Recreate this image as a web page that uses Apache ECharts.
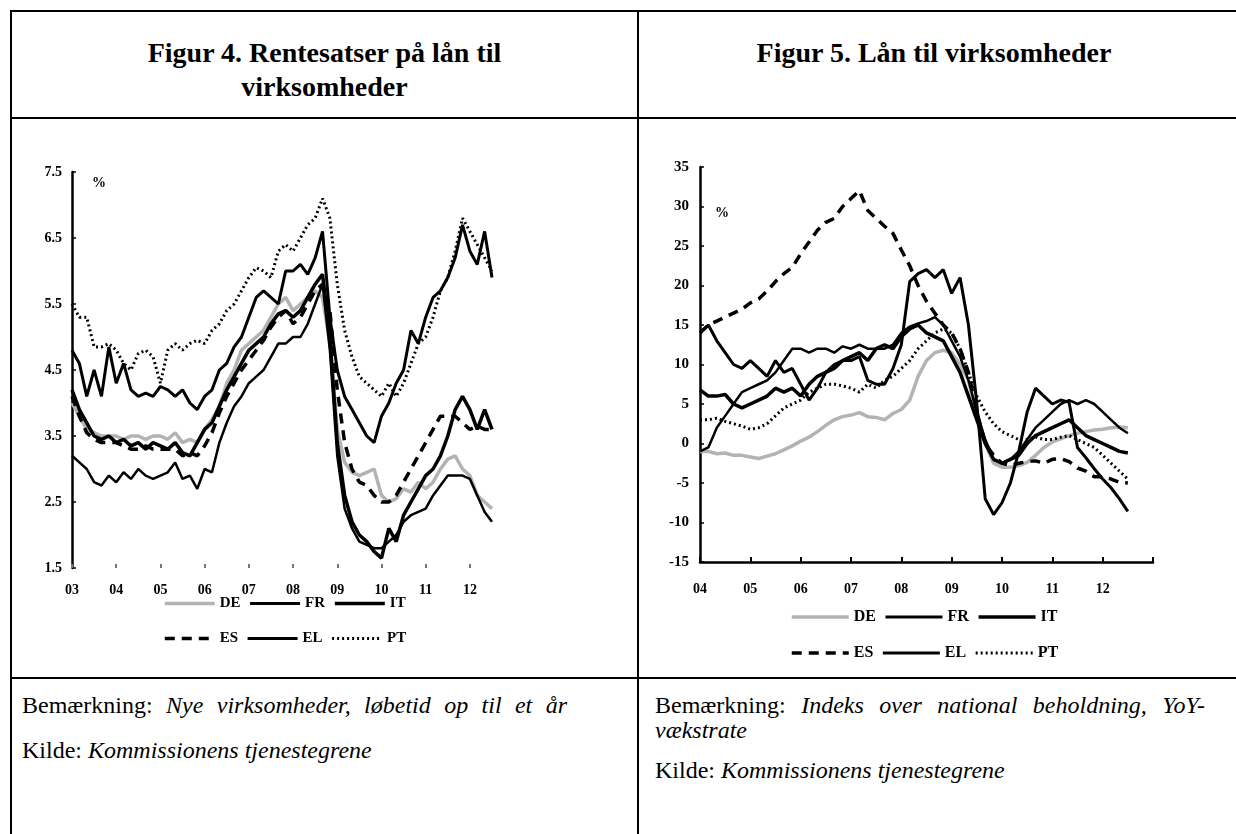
<!DOCTYPE html>
<html>
<head>
<meta charset="utf-8">
<script src="https://cdn.jsdelivr.net/npm/echarts@6.0.0/dist/echarts.min.js"></script>
<style>
  html, body { margin: 0; padding: 0; background: #fff; }
  body { width: 1236px; height: 834px; position: relative; overflow: hidden;
         font-family: "Liberation Serif", "Times New Roman", serif; color: #000; }
  .rule { position: absolute; background: #000; }
  .title { position: absolute; top: 36px; text-align: center; font-weight: bold;
           font-size: 28px; line-height: 34px; }
  .note { position: absolute; font-size: 24px; line-height: 26px; white-space: nowrap; }
  .just { text-align: justify; text-align-last: justify; white-space: normal; }
  #chart { position: absolute; left: 0; top: 0; width: 1236px; height: 834px; }
</style>
</head>
<body>
<!-- table rules -->
<div class="rule" style="left:10px;top:10px;width:1240px;height:2px"></div>
<div class="rule" style="left:10px;top:117px;width:1240px;height:2px"></div>
<div class="rule" style="left:10px;top:677px;width:1240px;height:2px"></div>
<div class="rule" style="left:10px;top:10px;width:2px;height:840px"></div>
<div class="rule" style="left:637px;top:10px;width:2px;height:840px"></div>

<div class="title" style="left:12px;width:625px">Figur 4. Rentesatser på lån til<br>virksomheder</div>
<div class="title" style="left:639px;width:590px">Figur 5. Lån til virksomheder</div>

<div class="note just" style="left:22px;top:692px;width:545px">Bemærkning: <i>Nye virksomheder, løbetid op til et år</i></div>
<div class="note" style="left:22px;top:737px">Kilde: <i>Kommissionens tjenestegrene</i></div>
<div class="note just" style="left:655px;top:692px;width:550px">Bemærkning: <i>Indeks over national beholdning, YoY-</i></div>
<div class="note" style="left:655px;top:717px"><i>vækstrate</i></div>
<div class="note" style="left:655px;top:757px">Kilde: <i>Kommissionens tjenestegrene</i></div>

<div id="chart"></div>

<script>
// every second month, Jan/Mar/May/Jul/Sep/Nov
function bimonthly(fromYear, toYear, toMonth) {
  var out = [];
  for (var y = fromYear; y <= toYear; y++) {
    for (var m = 1; m <= 11; m += 2) {
      if (y === toYear && m > toMonth) break;
      out.push(y + '-' + (m < 10 ? '0' + m : m));
    }
  }
  return out;
}

// Figur 4: rates, % (2003-01 .. 2012-07)
var monthsRate = bimonthly(2003, 2012, 7);
var rateDE = [4.0, 3.8, 3.6, 3.55, 3.5, 3.5, 3.5, 3.45, 3.5, 3.5, 3.45, 3.5,
  3.5, 3.45, 3.55, 3.4, 3.45, 3.4, 3.6, 3.75, 3.95, 4.3, 4.5, 4.8,
  4.9, 5.0, 5.1, 5.3, 5.5, 5.6, 5.4, 5.5, 5.6, 5.7, 5.6, 4.9,
  3.6, 3.1, 2.95, 2.9, 2.95, 3.0, 2.6, 2.5, 2.55, 2.7, 2.65, 2.8,
  2.7, 2.8, 3.0, 3.15, 3.2, 3.0, 2.9, 2.6, 2.5, 2.4];
var rateFR = [3.2, 3.1, 3.0, 2.8, 2.75, 2.9, 2.8, 2.95, 2.85, 3.0, 2.9, 2.85,
  2.9, 2.95, 3.1, 2.85, 2.9, 2.7, 3.0, 2.95, 3.4, 3.7, 3.95, 4.1,
  4.3, 4.4, 4.5, 4.7, 4.9, 4.9, 5.0, 5.0, 5.2, 5.5, 5.8, 4.8,
  3.2, 2.4, 2.1, 1.9, 1.85, 1.8, 1.8, 1.9, 2.0, 2.2, 2.3, 2.35,
  2.4, 2.6, 2.75, 2.9, 2.9, 2.9, 2.85, 2.6, 2.35, 2.2];
var rateIT = [4.2, 3.9, 3.7, 3.5, 3.45, 3.5, 3.4, 3.45, 3.35, 3.4, 3.3, 3.4,
  3.35, 3.3, 3.4, 3.25, 3.2, 3.4, 3.6, 3.7, 3.95, 4.2, 4.4, 4.6,
  4.8, 4.9, 5.0, 5.2, 5.35, 5.4, 5.3, 5.4, 5.6, 5.8, 5.95, 5.0,
  3.4, 2.6, 2.2, 2.0, 1.9, 1.75, 1.65, 2.1, 1.9, 2.3, 2.5, 2.7,
  2.9, 3.0, 3.2, 3.5, 3.9, 4.1, 3.9, 3.6, 3.9, 3.6];
var rateES = [4.1, 3.8, 3.55, 3.45, 3.4, 3.4, 3.4, 3.35, 3.3, 3.3, 3.35, 3.3,
  3.3, 3.3, 3.3, 3.2, 3.25, 3.2, 3.35, 3.55, 3.85, 4.1, 4.3, 4.5,
  4.65, 4.8, 4.95, 5.15, 5.3, 5.4, 5.2, 5.3, 5.5, 5.7, 5.8, 5.4,
  4.2, 3.4, 3.0, 2.8, 2.75, 2.6, 2.5, 2.5, 2.6, 2.8, 3.0, 3.2,
  3.4, 3.6, 3.8, 3.8, 3.8, 3.7, 3.6, 3.65, 3.6, 3.6];
var rateEL = [4.8, 4.6, 4.1, 4.5, 4.1, 4.85, 4.3, 4.6, 4.2, 4.1, 4.15, 4.1,
  4.25, 4.2, 4.1, 4.2, 4.0, 3.9, 4.1, 4.2, 4.5, 4.6, 4.85, 5.0,
  5.3, 5.6, 5.7, 5.6, 5.5, 6.0, 6.0, 6.1, 5.95, 6.2, 6.6, 5.3,
  4.5, 4.1, 3.9, 3.7, 3.5, 3.4, 3.8, 4.0, 4.3, 4.5, 5.1, 4.9,
  5.3, 5.6, 5.7, 5.9, 6.2, 6.7, 6.3, 6.1, 6.6, 5.9];
var ratePT = [5.5, 5.3, 5.3, 4.85, 4.85, 4.9, 4.8, 4.6, 4.5, 4.75, 4.8, 4.7,
  4.3, 4.8, 4.9, 4.8, 4.9, 4.95, 4.9, 5.1, 5.2, 5.4, 5.5, 5.7,
  5.9, 6.05, 6.0, 5.9, 6.3, 6.4, 6.3, 6.5, 6.7, 6.8, 7.1, 6.8,
  5.8, 5.1, 4.7, 4.4, 4.3, 4.2, 4.1, 4.3, 4.1, 4.3, 4.6, 4.9,
  5.0, 5.3, 5.7, 5.9, 6.3, 6.8, 6.6, 6.4, 6.2, 6.0];

// Figur 5: loans, YoY % (2004-01 .. 2012-07, axis to 2013-01)
var monthsLoan = bimonthly(2004, 2013, 1);
var loanDE = [-1.0, -1.0, -1.3, -1.2, -1.5, -1.5, -1.7, -1.9, -1.6, -1.3, -0.8, -0.3,
  0.3, 0.8, 1.5, 2.3, 3.0, 3.4, 3.6, 3.9, 3.4, 3.3, 3.0, 3.8,
  4.3, 5.5, 8.5, 10.5, 11.5, 11.8, 11.5, 10.0, 8.0, 3.5, 0.0, -2.5,
  -3.0, -3.0, -2.8, -2.4, -1.5, -0.5, 0.2, 0.6, 1.0, 1.3, 1.5, 1.7,
  1.8, 2.0, 2.1, 2.0];
var loanFR = [-1.0, -0.5, 2.0, 3.5, 5.0, 6.5, 7.0, 7.5, 8.0, 9.0, 10.5, 12.0,
  12.0, 11.5, 12.0, 12.0, 11.5, 12.3, 12.0, 12.5, 12.0, 12.0, 12.0, 12.5,
  14.0, 14.8, 15.2, 15.5, 16.0, 15.0, 13.0, 11.0, 8.0, 4.0, 0.5, -2.0,
  -2.5, -2.0, -1.0, 0.5, 2.0, 3.0, 4.0, 5.0, 5.5, 5.0, 5.5, 5.0,
  4.0, 3.0, 2.0, 1.3];
var loanIT = [6.8, 6.0, 6.0, 6.2, 5.0, 4.5, 5.0, 5.5, 6.0, 7.0, 6.5, 7.0,
  6.0, 7.5, 8.5, 9.0, 9.5, 10.5, 11.0, 11.5, 10.5, 12.0, 12.5, 12.0,
  13.5, 14.5, 15.0, 14.0, 13.5, 13.0, 11.0, 9.0, 6.0, 3.0, 0.0, -2.0,
  -2.5, -2.0, -1.5, 0.0, 1.0, 1.5, 2.0, 2.5, 3.0, 2.0, 1.0, 0.5,
  0.0, -0.5, -1.0, -1.2];
var loanES = [14.0, 15.0, 15.5, 16.0, 16.5, 17.0, 17.8, 18.3, 19.3, 20.5, 21.5, 22.3,
  24.0, 25.5, 27.0, 28.0, 28.5, 30.0, 31.0, 32.0, 29.5, 28.5, 27.5, 26.6,
  24.5, 22.5, 20.0, 18.0, 16.5, 15.0, 14.0, 12.0, 9.0, 4.0, 0.0, -1.5,
  -2.5, -2.8, -2.5, -2.3, -2.2, -2.5, -2.0, -1.9, -2.3, -3.1, -3.5, -4.2,
  -4.2, -4.5, -4.9, -5.0];
var loanEL = [14.0, 15.0, 13.0, 11.5, 10.0, 9.5, 10.5, 9.5, 8.5, 10.5, 9.0, 9.5,
  7.5, 5.5, 7.0, 9.0, 10.0, 10.5, 10.5, 11.0, 8.0, 7.5, 7.5, 9.5,
  12.5, 20.5, 21.5, 22.0, 21.0, 22.0, 19.0, 21.0, 15.0, 5.0, -7.0, -9.0,
  -7.5, -5.0, -1.0, 4.0, 7.0, 6.0, 5.0, 5.5, 5.2, -0.5, -1.8, -3.2,
  -4.5, -5.6, -7.0, -8.6];
var loanPT = [3.0, 3.0, 3.2, 2.8, 2.5, 2.2, 1.8, 2.0, 2.5, 3.5, 4.5, 5.0,
  5.5, 6.5, 7.0, 7.5, 7.5, 7.3, 7.0, 6.5, 7.5, 7.0, 8.0, 8.5,
  9.5, 10.5, 12.0, 13.0, 14.0, 14.5, 14.0, 12.0, 9.0, 6.0, 4.0, 2.5,
  1.5, 1.0, 0.5, 0.5, 0.8, 0.5, 0.5, 0.8, 1.0, 0.5, 0.0, -0.5,
  -1.5, -2.5, -3.5, -4.5];

var FONT = '"Liberation Serif", "Times New Roman", serif';

var styles = {
  DE: { color: '#b3b3b3', width: 3.5, type: 'solid' },
  FR: { color: '#000', width: 2.5, type: 'solid' },
  IT: { color: '#000', width: 3.5, type: 'solid' },
  ES: { color: '#000', width: 3.5, type: [10, 7] },
  EL: { color: '#000', width: 3, type: 'solid' },
  PT: { color: '#000', width: 3, type: [2, 3] }
};

function line(name, data, idx) {
  var s = styles[name];
  return {
    name: name, type: 'line', xAxisIndex: idx, yAxisIndex: idx, data: data,
    symbol: 'none', animation: false, silent: true,
    itemStyle: { color: s.color },
    lineStyle: { color: s.color, width: s.width, type: s.type }
  };
}

function legendItems(names) {
  return names.map(function (n) {
    return { name: n, lineStyle: { width: Math.max(styles[n].width, 3) } };
  });
}

function legend(names, left, top, itemWidth, fontSize) {
  return {
    data: legendItems(names), left: left, top: top, orient: 'horizontal',
    itemWidth: itemWidth, itemHeight: 12, itemGap: 8, padding: 0,
    selectedMode: false,
    itemStyle: { color: 'rgba(0,0,0,0)', borderWidth: 0, borderColor: 'rgba(0,0,0,0)' },
    textStyle: { color: '#000', fontFamily: FONT, fontWeight: 'bold', fontSize: fontSize }
  };
}

function yearTick(lastYear) {
  return function (idx, val) {
    return val.slice(5) === '01' && +val.slice(0, 4) <= lastYear;
  };
}

var labelStyle = { color: '#000', fontFamily: FONT, fontWeight: 'bold', fontSize: 14 };

var chart = echarts.init(document.getElementById('chart'));
chart.setOption({
  backgroundColor: 'transparent',
  animation: false,
  grid: [
    { left: 72, top: 172, width: 420, height: 396, outerBoundsMode: 'none' },
    { left: 700, top: 167, width: 453, height: 395, outerBoundsMode: 'none' }
  ],
  xAxis: [
    {
      type: 'category', gridIndex: 0, data: monthsRate, boundaryGap: false,
      axisLine: { show: false },
      axisTick: { show: true, inside: true, length: 4, interval: yearTick(2012),
                  lineStyle: { color: '#777', width: 2 } },
      axisLabel: Object.assign({ interval: yearTick(2012), margin: 15,
        formatter: function (v) { return v.slice(2, 4); } }, labelStyle),
      splitLine: { show: false }
    },
    {
      type: 'category', gridIndex: 1, data: monthsLoan, boundaryGap: false,
      axisLine: { show: true, onZero: false, lineStyle: { color: '#000', width: 2.5 } },
      axisTick: { show: true, inside: true, length: 5, interval: yearTick(2013),
                  lineStyle: { color: '#000', width: 2 } },
      axisLabel: Object.assign({ interval: yearTick(2012), margin: 20,
        formatter: function (v) { return v.slice(2, 4); } }, labelStyle),
      splitLine: { show: false }
    }
  ],
  yAxis: [
    {
      type: 'value', gridIndex: 0, min: 1.5, max: 7.5, interval: 1,
      axisLine: { show: true, lineStyle: { color: '#000', width: 2.5 } },
      axisTick: { show: true, inside: true, length: 4, lineStyle: { color: '#000', width: 1.5 } },
      axisLabel: Object.assign({ margin: 10 }, labelStyle),
      splitLine: { show: false }
    },
    {
      type: 'value', gridIndex: 1, min: -15, max: 35, interval: 5,
      axisLine: { show: true, lineStyle: { color: '#000', width: 2.5 } },
      axisTick: { show: true, inside: true, length: 4, lineStyle: { color: '#000', width: 1.5 } },
      axisLabel: Object.assign({ margin: 11 }, labelStyle, { fontSize: 15 }),
      splitLine: { show: false }
    }
  ],
  legend: [
    legend(['DE', 'FR', 'IT'], 163, 596, 50, 15),
    legend(['ES', 'EL', 'PT'], 163, 631, 50, 15),
    legend(['DE', 'FR', 'IT'], 790, 609, 57, 16),
    legend(['ES', 'EL', 'PT'], 790, 645, 57, 16)
  ],
  graphic: [
    { type: 'text', left: 92, top: 176, style: { text: '%', font: 'bold 14px ' + FONT, fill: '#000' } },
    { type: 'text', left: 715, top: 206, style: { text: '%', font: 'bold 14px ' + FONT, fill: '#000' } }
  ],
  series: [
    line('DE', rateDE, 0),
    line('FR', rateFR, 0),
    line('IT', rateIT, 0),
    line('ES', rateES, 0),
    line('EL', rateEL, 0),
    line('PT', ratePT, 0),
    line('DE', loanDE, 1),
    line('FR', loanFR, 1),
    line('IT', loanIT, 1),
    line('ES', loanES, 1),
    line('EL', loanEL, 1),
    line('PT', loanPT, 1)
  ]
});
</script>
</body>
</html>
